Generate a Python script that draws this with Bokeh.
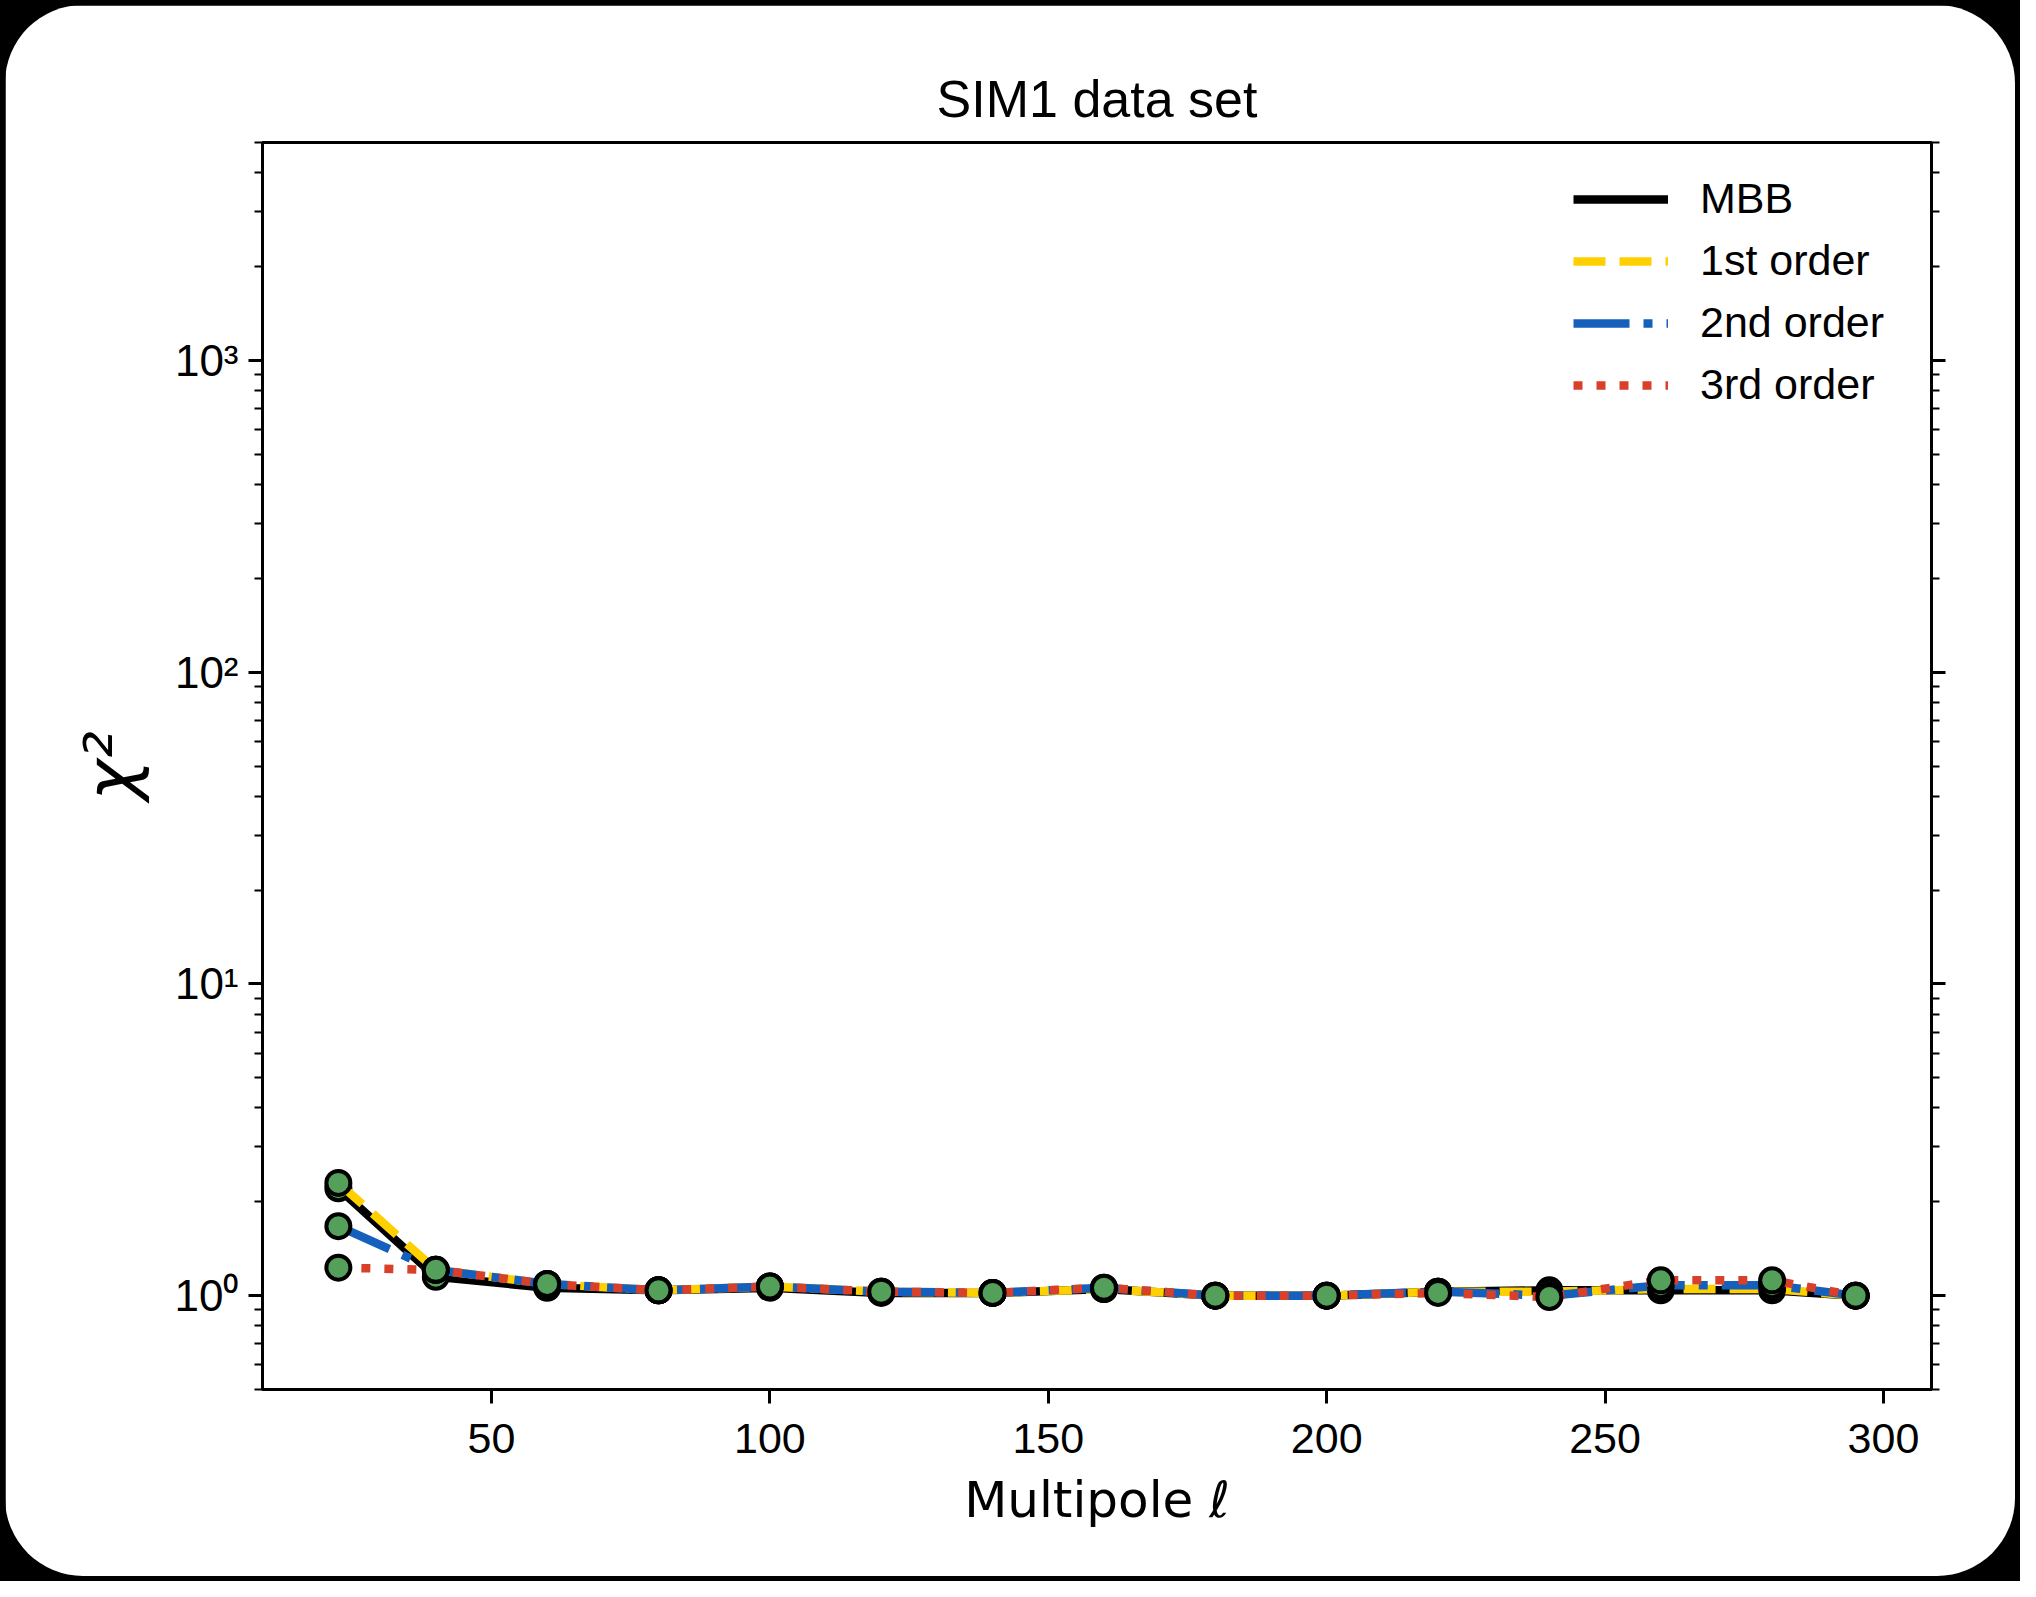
from bokeh.plotting import figure
from bokeh.models import FixedTicker, LogAxis, Legend, LegendItem, Range1d
from bokeh.layouts import column
from bokeh.embed import file_html
from bokeh.resources import INLINE

# ---- data ----
ell = [22.5, 40, 60, 80, 100, 120, 140, 160, 180, 200, 220, 240, 260, 280, 295]
chi2_mbb = [2.21, 1.15, 1.06, 1.04, 1.06, 1.02, 1.02, 1.05, 1.00, 1.00, 1.03, 1.04, 1.04, 1.04, 1.00]
chi2_1st = [2.30, 1.21, 1.09, 1.04, 1.07, 1.03, 1.02, 1.05, 1.00, 1.00, 1.03, 1.03, 1.05, 1.05, 1.00]
chi2_2nd = [1.67, 1.21, 1.09, 1.04, 1.07, 1.03, 1.02, 1.06, 1.00, 1.00, 1.03, 1.00, 1.08, 1.08, 1.00]
chi2_3rd = [1.23, 1.21, 1.09, 1.04, 1.07, 1.03, 1.02, 1.06, 1.00, 1.00, 1.02, 0.99, 1.12, 1.12, 1.00]
series_names = ["MBB", "1st order", "2nd order", "3rd order"]
x_ticks = [50, 100, 150, 200, 250, 300]
y_ticks = [1, 10, 100, 1000]
y_tick_labels = ["10\u2070", "10\u00b9", "10\u00b2", "10\u00b3"]
y_minor = [0.5, 0.6, 0.7, 0.8, 0.9] + [m * d for d in (1, 10, 100, 1000) for m in range(2, 10) if m * d <= 5000]
y_limits = (0.5, 5000)

span = max(ell) - min(ell)
x_limits = (min(ell) - 0.05 * span, max(ell) + 0.05 * span)

FONT = "Liberation Sans"
p = figure(width=2010, height=1571, y_axis_type="log",
           x_range=Range1d(*x_limits), y_range=Range1d(*y_limits),
           output_backend="svg", toolbar_location=None,
           min_border_left=257, min_border_top=137, min_border_right=84, min_border_bottom=187)
p.border_fill_color = "white"
p.background_fill_color = "white"
p.styles = {"border-radius": "78px", "overflow": "hidden"}
p.margin = (5, 5, 5, 5)
p.grid.visible = False
p.outline_line_color = "black"
p.outline_line_width = 3

p.title.text = "SIM1 data set"
p.title.align = "center"
p.title.text_font = FONT
p.title.text_font_style = "normal"
p.title.text_font_size = "52px"
p.title.text_color = "black"
p.title.standoff = 30

# x axis
xa = p.xaxis[0]
xa.ticker = FixedTicker(ticks=x_ticks, minor_ticks=[])
xa.axis_label = "Multipole \u2113"
xa.axis_label_text_font = "DejaVu Sans"
xa.axis_label_text_font_style = "normal"
xa.axis_label_text_font_size = "50px"
xa.axis_label_text_color = "black"
xa.axis_label_standoff = 15
xa.major_label_text_font = FONT
xa.major_label_text_font_size = "43px"
xa.major_label_text_color = "black"
xa.major_label_standoff = 20
xa.axis_line_width = 3
xa.major_tick_line_width = 3
xa.major_tick_in = 0
xa.major_tick_out = 14

yticker = FixedTicker(ticks=y_ticks, minor_ticks=y_minor)
overrides = {t: lab for t, lab in zip(y_ticks, y_tick_labels)}

ya = p.yaxis[0]
ya.ticker = yticker
ya.major_label_overrides = overrides
ya.axis_label = "\u03c7\u00b2"
ya.axis_label_text_font = "DejaVu Sans"
ya.axis_label_text_font_style = "italic"
ya.axis_label_text_font_size = "70px"
ya.axis_label_text_color = "black"
ya.axis_label_standoff = 20
ya.major_label_text_font = FONT
ya.major_label_text_font_size = "44px"
ya.major_label_text_color = "black"
ya.major_label_standoff = 10

ry = LogAxis(ticker=yticker)
ry.major_label_text_alpha = 0
ry.major_label_text_font_size = "10px"
p.add_layout(ry, "right")

for ax in (ya, ry):
    ax.axis_line_width = 3
    ax.major_tick_line_width = 3
    ax.minor_tick_line_width = 2
    ax.major_tick_in = 0
    ax.major_tick_out = 14
    ax.minor_tick_in = 0
    ax.minor_tick_out = 8

styles = [
    dict(line_color="black", line_dash="solid"),
    dict(line_color="#FFD000", line_dash="32 14"),
    dict(line_color="#1560BD", line_dash="56 14 9 14"),
    dict(line_color="#D9402A", line_dash="9 14"),
]
ys = [chi2_mbb, chi2_1st, chi2_2nd, chi2_3rd]
items = []
for name, yv, st in zip(series_names, ys, styles):
    r = p.line(ell, yv, line_width=8.5, line_cap="butt", **st)
    p.scatter(ell, yv, size=24, fill_color="#54A05A", line_color="black", line_width=4)
    items.append(LegendItem(label=name, renderers=[r]))

leg = Legend(items=items, location="top_right")
leg.label_text_font = FONT
leg.label_text_font_size = "43px"
leg.label_text_color = "black"
leg.glyph_width = 95
leg.glyph_height = 40
leg.label_width = 199
leg.label_standoff = 32
leg.spacing = 13
leg.margin = 32
leg.padding = 14
leg.border_line_color = None
leg.background_fill_alpha = 0
p.add_layout(leg)

root = column(p, styles={"background-color": "black"})
open("out.html", "w").write(file_html(root, INLINE))
